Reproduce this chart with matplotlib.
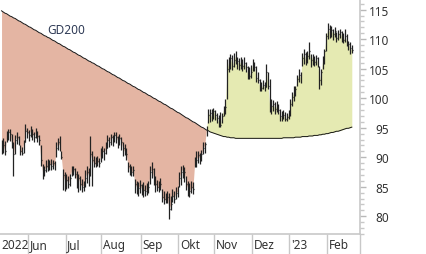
import numpy as np
import pandas as pd
import matplotlib
matplotlib.use('Agg')
import matplotlib.pyplot as plt
from matplotlib.ticker import MultipleLocator

# Kursdaten (Handelstage ab 10.05.2022)
start_date = '2022-05-10'

close = [
    91.5, 92.0, 91.0, 93.5, 94.3, 94.0, 92.0, 90.5, 93.0, 93.5,
    92.8, 91.0, 90.8, 92.6, 94.5, 94.2, 93.8, 94.6, 94.0, 93.5,
    94.2, 93.6, 93.0, 89.5, 87.5, 87.8, 88.5, 88.2, 88.8, 88.6,
    89.0, 88.5, 91.5, 92.5, 92.0, 90.0, 87.0, 86.0, 86.2, 85.5,
    86.5, 87.8, 88.0, 87.2, 86.0, 86.5, 85.5, 85.0, 85.3, 86.5,
    87.5, 87.0, 90.5, 89.5, 89.0, 88.8, 89.3, 89.0, 90.5, 91.0,
    90.8, 91.5, 93.0, 92.5, 93.5, 93.2, 93.8, 93.5, 92.8, 93.3,
    92.6, 91.5, 91.0, 90.5, 88.5, 88.0, 87.5, 87.8, 85.5, 85.0,
    84.8, 85.3, 84.6, 84.5, 84.2, 84.8, 85.0, 87.5, 88.0, 86.5,
    85.5, 85.0, 84.8, 85.4, 83.2, 83.0, 82.7, 83.3, 81.2, 82.0,
    83.5, 83.0, 84.0, 84.2, 86.5, 87.5, 88.0, 87.5, 85.5, 84.8,
    84.3, 85.0, 84.6, 89.0, 89.6, 90.3, 89.8, 90.6, 91.5, 92.2,
    95.0, 97.2, 97.5, 96.8, 97.8, 97.2, 96.6, 96.0, 95.5, 97.0,
    98.2, 98.5, 105.0, 106.2, 106.8, 105.5, 106.5, 107.2, 106.3, 105.7,
    106.2, 105.5, 106.0, 105.2, 104.2, 103.8, 104.5, 105.8, 105.3, 103.5,
    103.0, 102.2, 101.8, 102.3, 101.9, 104.5, 102.0, 98.5, 98.6, 99.0,
    98.2, 98.7, 98.0, 97.0, 96.7, 97.2, 96.5, 96.8, 97.3, 99.0,
    100.2, 101.0, 101.5, 103.3, 104.0, 103.5, 106.8, 107.5, 106.5, 107.2,
    108.0, 106.5, 107.0, 106.2, 106.8, 106.0, 103.0, 104.5, 106.5, 108.0,
    110.5, 111.8, 111.2, 111.5, 110.8, 111.3, 110.2, 110.8, 111.2, 110.5,
    109.8, 110.5, 109.6, 109.2, 108.5, 108.1,
]

high = [
    93.0, 93.2, 92.8, 94.5, 94.8, 94.7, 94.0, 92.5, 93.8, 94.3,
    93.6, 92.0, 91.8, 93.0, 95.6, 95.0, 94.6, 95.3, 94.8, 94.3,
    95.0, 94.4, 93.8, 92.0, 88.9, 88.6, 89.5, 89.7, 89.5, 89.7,
    89.6, 89.4, 92.5, 93.2, 93.6, 91.0, 88.0, 87.5, 87.2, 86.8,
    87.2, 88.5, 88.5, 88.2, 87.7, 87.2, 86.8, 86.3, 86.0, 87.8,
    88.5, 88.2, 93.6, 91.0, 90.2, 90.0, 90.2, 89.8, 91.5, 91.9,
    91.6, 92.5, 93.8, 93.4, 94.0, 93.8, 94.3, 94.2, 93.6, 93.9,
    93.4, 92.6, 92.2, 91.5, 89.2, 88.9, 88.5, 88.5, 86.3, 86.0,
    85.8, 86.1, 85.5, 85.8, 85.3, 85.7, 86.0, 88.5, 89.2, 88.2,
    86.8, 86.2, 86.0, 86.4, 84.6, 84.2, 84.0, 84.3, 84.0, 83.5,
    84.6, 84.3, 85.0, 85.2, 87.5, 88.5, 88.7, 88.3, 86.8, 86.0,
    85.6, 86.0, 85.8, 90.0, 91.1, 91.0, 90.8, 91.3, 92.6, 92.6,
    95.3, 98.2, 98.2, 98.1, 98.3, 98.0, 97.5, 97.2, 97.7, 97.5,
    98.7, 99.9, 106.6, 107.0, 107.5, 107.3, 107.6, 108.0, 107.0, 106.8,
    107.0, 106.6, 106.9, 106.2, 105.5, 105.2, 105.6, 106.6, 106.2, 105.4,
    104.4, 103.2, 102.8, 103.1, 102.8, 105.8, 104.5, 103.2, 99.9, 99.7,
    99.4, 99.6, 99.1, 98.2, 97.8, 98.0, 97.6, 97.5, 98.0, 99.8,
    101.0, 102.1, 102.0, 104.0, 104.9, 104.5, 107.6, 108.3, 107.8, 108.0,
    109.5, 107.5, 107.5, 107.2, 107.4, 107.0, 105.4, 105.0, 107.2, 108.3,
    111.0, 112.7, 112.4, 112.2, 111.8, 112.0, 111.2, 111.5, 111.7, 111.3,
    111.0, 111.7, 110.8, 109.7, 109.6, 109.0,
]

low = [
    90.6, 90.8, 90.3, 92.5, 93.0, 92.8, 91.5, 86.9, 90.5, 92.2,
    92.0, 90.3, 90.4, 90.8, 92.5, 93.2, 92.8, 93.5, 93.0, 92.5,
    93.2, 92.6, 92.0, 88.5, 86.3, 86.8, 87.5, 87.6, 87.8, 87.8,
    88.0, 87.9, 90.0, 91.2, 91.0, 89.7, 84.5, 84.3, 84.6, 84.8,
    85.2, 86.8, 87.0, 86.5, 84.8, 84.1, 84.5, 84.1, 84.3, 85.0,
    85.6, 85.2, 86.8, 85.2, 88.4, 88.4, 88.5, 88.4, 89.2, 89.8,
    89.5, 90.5, 91.5, 91.8, 92.0, 91.9, 92.5, 92.4, 91.5, 92.0,
    91.3, 90.2, 90.3, 89.5, 87.5, 87.0, 86.8, 86.8, 84.0, 83.8,
    83.5, 84.0, 83.6, 83.3, 83.4, 83.6, 84.0, 85.5, 86.5, 85.3,
    84.1, 84.2, 84.1, 84.4, 82.4, 82.1, 82.3, 82.2, 79.6, 81.0,
    82.5, 82.2, 83.0, 83.2, 85.0, 85.3, 86.5, 85.8, 84.4, 83.5,
    83.3, 84.0, 83.8, 88.4, 88.4, 89.0, 88.8, 89.3, 90.6, 90.8,
    93.6, 95.8, 96.0, 96.2, 96.5, 96.3, 95.8, 95.1, 95.1, 95.8,
    97.0, 97.3, 99.9, 104.4, 105.0, 104.8, 105.2, 105.8, 105.0, 104.8,
    105.0, 104.6, 104.9, 104.5, 103.2, 103.2, 103.5, 104.6, 104.6, 102.7,
    102.5, 101.3, 101.2, 101.5, 101.2, 101.9, 101.5, 97.6, 97.4, 97.8,
    97.3, 97.6, 97.3, 96.2, 96.1, 96.4, 96.1, 96.1, 96.5, 97.0,
    98.7, 99.5, 100.4, 102.1, 102.8, 102.5, 105.4, 105.8, 105.6, 106.0,
    106.6, 105.3, 105.6, 105.4, 105.7, 105.3, 101.6, 102.3, 104.9, 105.8,
    108.0, 110.0, 110.2, 110.4, 109.9, 110.3, 109.5, 109.9, 110.2, 109.6,
    109.3, 109.5, 108.8, 108.2, 107.5, 107.6,
]

# gleitender 200-Tage-Durchschnitt
gd200 = [
    114.8, 114.6, 114.4, 114.3, 114.1, 113.9, 113.8, 113.6, 113.5, 113.3,
    113.1, 113.0, 112.8, 112.6, 112.5, 112.3, 112.1, 112.0, 111.8, 111.6,
    111.5, 111.3, 111.1, 111.0, 110.8, 110.6, 110.5, 110.3, 110.2, 110.0,
    109.8, 109.7, 109.5, 109.3, 109.2, 109.0, 108.8, 108.7, 108.5, 108.3,
    108.2, 108.0, 107.8, 107.7, 107.5, 107.3, 107.2, 107.0, 106.8, 106.7,
    106.5, 106.3, 106.2, 106.0, 105.9, 105.7, 105.5, 105.4, 105.2, 105.0,
    104.9, 104.7, 104.5, 104.4, 104.2, 104.0, 103.9, 103.7, 103.5, 103.4,
    103.2, 103.0, 102.9, 102.7, 102.5, 102.4, 102.2, 102.0, 101.9, 101.7,
    101.5, 101.4, 101.2, 101.0, 100.9, 100.7, 100.5, 100.4, 100.2, 100.0,
    99.9, 99.7, 99.5, 99.4, 99.2, 99.0, 98.9, 98.7, 98.5, 98.3,
    98.2, 98.0, 97.8, 97.6, 97.5, 97.3, 97.1, 96.9, 96.7, 96.6,
    96.4, 96.2, 96.0, 95.9, 95.7, 95.5, 95.3, 95.1, 95.0, 94.8,
    94.6, 94.5, 94.3, 94.2, 94.1, 94.0, 93.9, 93.8, 93.7, 93.6,
    93.5, 93.5, 93.4, 93.4, 93.3, 93.3, 93.3, 93.2, 93.2, 93.2,
    93.2, 93.2, 93.2, 93.2, 93.2, 93.2, 93.2, 93.2, 93.2, 93.2,
    93.2, 93.2, 93.2, 93.2, 93.2, 93.2, 93.2, 93.2, 93.2, 93.2,
    93.2, 93.2, 93.2, 93.2, 93.2, 93.3, 93.3, 93.3, 93.3, 93.3,
    93.3, 93.3, 93.4, 93.4, 93.4, 93.4, 93.5, 93.5, 93.5, 93.5,
    93.6, 93.6, 93.6, 93.7, 93.7, 93.7, 93.8, 93.8, 93.9, 93.9,
    94.0, 94.0, 94.1, 94.2, 94.2, 94.3, 94.4, 94.4, 94.5, 94.6,
    94.7, 94.8, 94.9, 94.9, 95.0, 95.1,
]

month_labels = ['Jun', 'Jul', 'Aug', 'Sep', 'Okt', 'Nov', 'Dez', "'23", 'Feb']
first_label = '2022'
y_ticks = [80, 85, 90, 95, 100, 105, 110, 115]

plt.rcParams['font.family'] = ['Noto Sans', 'DejaVu Sans']

close = np.array(close)
high = np.array(high)
low = np.array(low)
gd200 = np.array(gd200)
dates = pd.bdate_range(start_date, periods=len(close))
x = np.arange(len(close))

# Monatswechsel
months = dates.month
bounds = [i - 0.5 for i in range(1, len(x)) if months[i] != months[i - 1]]

x_min, x_max = -0.9, 209.8

fig = plt.figure(figsize=(4.26, 2.55), dpi=100)
ax = fig.add_axes([0, 1 - 235 / 255, 360 / 426, 235 / 255])

ax.fill_between(x, close, gd200, where=close < gd200, interpolate=True,
                color='#e4b5a3', lw=0)
ax.fill_between(x, close, gd200, where=close >= gd200, interpolate=True,
                color='#e5eab2', lw=0)
ax.plot(x, gd200, color='#151515', lw=0.7)

ax.vlines(x, low, high, color='#222222', lw=0.9)
ax.hlines(close, x, x + 0.5, color='#222222', lw=0.9)

ax.text(37.7, 111.6, 'GD200', color='#2e3a55', fontsize=8.5,
        ha='center', va='center')

ax.set_xlim(x_min, x_max)
ax.set_ylim(77.0, 116.8)

# x-Achse: Trennstriche + Monatsnamen
ax.set_xticks(bounds + [x_max])
ax.tick_params(axis='x', direction='out', length=14.4, width=1,
               color='#c8c8c8', labelbottom=False)
ax.text(x_min + 0.6, -0.043, first_label, transform=ax.get_xaxis_transform(),
        ha='left', va='center', fontsize=8.5, color='#333333')
for b, lab in zip(bounds, month_labels):
    ax.text(b + 1.0, -0.043, lab, transform=ax.get_xaxis_transform(),
            ha='left', va='center', fontsize=8.5, color='#333333')

# y-Achse rechts
ax.yaxis.tick_right()
ax.set_yticks(y_ticks)
ax.yaxis.set_minor_locator(MultipleLocator(1))
ax.tick_params(axis='y', which='major', length=4.3, width=1, color='#b8b8b8',
               pad=16.6, labelsize=8.5, labelcolor='#333333')
ax.tick_params(axis='y', which='minor', length=2.9, width=1, color='#c8c8c8')
for lab in ax.get_yticklabels():
    lab.set_horizontalalignment('right')

for s in ['left', 'top']:
    ax.spines[s].set_visible(False)
for s in ['right', 'bottom']:
    ax.spines[s].set_color('#c8c8c8')
    ax.spines[s].set_linewidth(1.2)

fig.savefig('out.png', dpi=100)
